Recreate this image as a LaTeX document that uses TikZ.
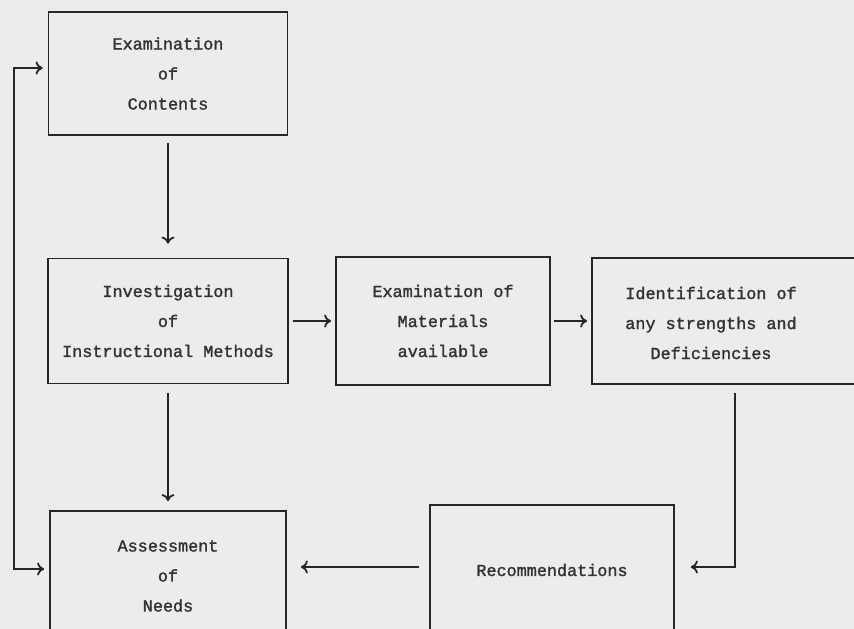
\documentclass[tikz,border=0pt]{standalone}
\usepackage{fontspec}
\newfontfamily\typer[FakeBold=1.6]{Liberation Mono}
\usetikzlibrary{arrows.meta}
\tikzset{
	box/.style={draw=black!85, line width=1.7pt, rectangle, align=center, inner sep=0pt,
		font=\typer\fontsize{16.8}{30}\selectfont, text=black!80},
	btext/.style={align=center, inner sep=0pt, font=\typer\fontsize{16.8}{30}\selectfont, text=black!80},
	flow/.style={draw=black!85, line width=1.8pt},
	>={Computer Modern Rightarrow[length=7pt,width=13pt]}
}

\begin{document}
\begin{tikzpicture}[x=1pt,y=-1pt]
	%%%%% PAPER %%%%%
	\fill[gray!15] (0,0) rectangle (854,629);
	\useasboundingbox (0,0) rectangle (854,629);
	
	%%%%% BOXES %%%%%
	\node[box, minimum width=239pt, minimum height=123pt] (contents) at (168, 73.5) {Examination\\of\\Contents};
	\node[box, minimum width=240pt, minimum height=125pt] (invest) at (168, 321) {Investigation\\of\\Instructional Methods};
	\node[box, minimum width=214pt, minimum height=128pt] (mater) at (443, 321) {Examination of\\Materials\\available};
	\node[box, minimum width=320pt, minimum height=126pt] (identbox) at (752, 321) {};
	\node[btext] (ident) at (711, 323) {Identification of\\any strengths and\\Deficiencies};
	\node[box, minimum width=236pt, minimum height=130pt] (assess) at (168, 576) {Assessment\\of\\Needs};
	\node[box, minimum width=244pt, minimum height=130pt] (recom) at (552, 570) {Recommendations};
	
	\coordinate (fbtop) at (14, 68);
	\coordinate (fbbot) at (14, 569);
	\coordinate (identout) at (735, 400);
	
	%%%%% ARROWS %%%%%
	\draw[flow, ->, shorten <=7pt, shorten >=14pt] (contents) -- (invest);
	\draw[flow, ->, shorten <=9pt, shorten >=9pt] (invest) -- (assess);
	\draw[flow, ->, shorten <=4pt, shorten >=4pt] (invest) -- (mater);
	\draw[flow, ->, shorten <=3pt, shorten >=4pt] (mater) -- (identbox);
	\draw[flow, ->, shorten <=8pt, shorten >=16pt] (identbox.south -| identout) |- ([yshift=3pt]recom.east);
	\draw[flow, ->, shorten <=10pt, shorten >=14pt] ([yshift=3pt]recom.west) -- ([yshift=3pt]recom.west -| assess.east);
	\draw[flow, <->, shorten <=5pt, shorten >=5pt] (fbtop -| contents.west) -- (fbtop) -- (fbbot) -- (fbbot -| assess.west);
\end{tikzpicture}
\end{document}
